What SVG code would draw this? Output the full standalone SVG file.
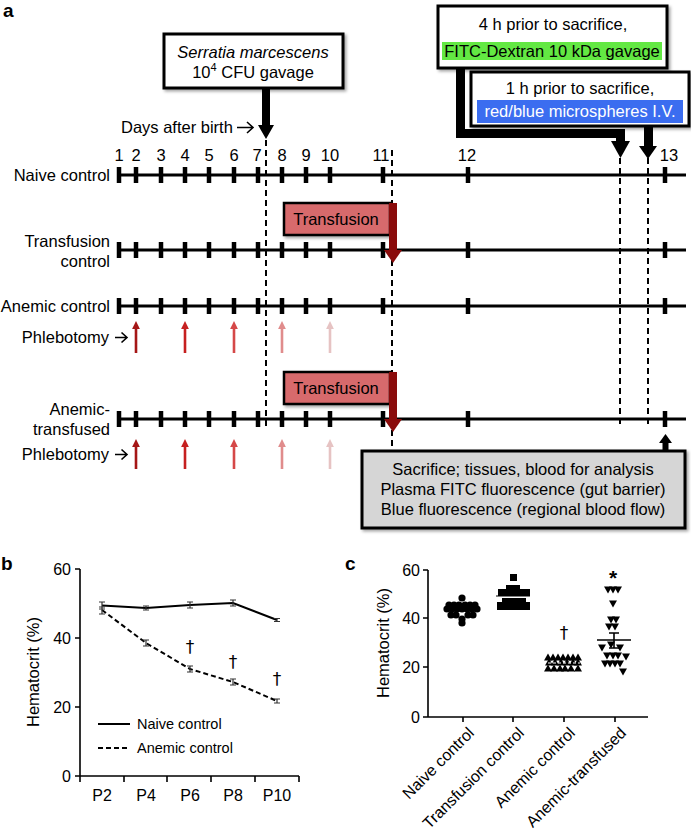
<svg xmlns="http://www.w3.org/2000/svg" width="691" height="833" viewBox="0 0 691 833">
<defs>
<style>
text{font-family:"Liberation Sans",Arial,sans-serif;fill:#000}
.lbl{font-size:16.5px;text-anchor:end}
.num{font-size:16.5px;text-anchor:middle}
.bx{font-size:16.5px;text-anchor:middle}
.ax{font-size:16px}
.lg{font-size:14.5px}
.dg{font-family:"DejaVu Sans",sans-serif;font-size:17px;text-anchor:middle;fill:#000}
.pl{font-weight:bold;font-size:19px}
.tl{stroke:#000;stroke-width:3;fill:none}
.tk{stroke:#000;stroke-width:4.5}
.dash{stroke:#000;stroke-width:2;stroke-dasharray:6,4;fill:none}
.box{stroke:#000;stroke-width:3}
.trbox{fill:#d76b6c;stroke:#000;stroke-width:2.5}
.axis{stroke:#000;stroke-width:1.6;fill:none}
.eb{stroke:#333;stroke-width:1.2;fill:none}
.oa{stroke:#000;stroke-width:1.6;fill:none}
</style>
<filter id="sh" x="-10%" y="-10%" width="130%" height="140%">
<feDropShadow dx="2" dy="2" stdDeviation="1.5" flood-color="#000" flood-opacity="0.35"/>
</filter>
<marker id="ph" viewBox="0 0 10 10" refX="5" refY="5" markerWidth="3" markerHeight="3" orient="auto"><path d="M0,0 L10,5 L0,10 Z" fill="context-stroke"/></marker>
<symbol id="tri" viewBox="-4 -4 8 8" overflow="visible"><path d="M-4,3.5 L4,3.5 L0,-3.5 Z"/></symbol>
<path id="dn" d="M-4,-3.5 L4,-3.5 L0,3.5 Z"/>
</defs>
<rect width="691" height="833" fill="#fff"/>

<text class="pl" x="3" y="17">a</text>
<text class="pl" x="1" y="570">b</text>
<text class="pl" x="345" y="570">c</text>

<g id="connectors">
<line class="dash" x1="266" y1="140" x2="266" y2="428"/>
<line class="dash" x1="392" y1="150" x2="392" y2="462"/>
<line class="dash" x1="620" y1="158" x2="620" y2="428"/>
<line class="dash" x1="648" y1="158" x2="648" y2="428"/>
<path d="M262,88 L270,88 L270,125 L274,125 L266,139 L258,125 L262,125 Z" fill="#000"/>
<polyline points="460.5,68 460.5,133.5 620.5,133.5 620.5,142" fill="none" stroke="#000" stroke-width="9" stroke-linejoin="miter"/>
<path d="M611,141 L630,141 L620.5,158 Z" fill="#000"/>
<rect x="644" y="126" width="9" height="22" fill="#000"/>
<path d="M639,146 L657,146 L648,159 Z" fill="#000"/>
<rect x="662.5" y="442" width="6" height="10" fill="#000"/>
<path d="M659,443 L672,443 L665.5,434 Z" fill="#000"/>
</g>

<g id="serratia-box">
<rect class="box" x="164" y="34" width="179" height="54" fill="#fff" filter="url(#sh)"/>
<text class="bx" x="253" y="58" font-style="italic">Serratia marcescens</text>
<text class="bx" x="253" y="78">10<tspan font-size="11" dy="-7">4</tspan><tspan dy="7"> CFU gavage</tspan></text>
</g>

<g id="fitc-box">
<rect class="box" x="438" y="6" width="229" height="62" fill="#fff" filter="url(#sh)"/>
<text class="bx" x="553" y="30">4 h prior to sacrifice,</text>
<rect x="442" y="42" width="220" height="18" fill="#63e843"/>
<text class="bx" x="552" y="57">FITC-Dextran 10 kDa gavage</text>
</g>

<g id="micro-box">
<rect class="box" x="471" y="72" width="218" height="54" fill="#fff" filter="url(#sh)"/>
<text class="bx" x="580" y="94">1 h prior to sacrifice,</text>
<rect x="477" y="100" width="206" height="23" fill="#3b6df0"/>
<text class="bx" x="580" y="117" style="fill:#fff">red/blue microspheres I.V.</text>
</g>

<g id="days-label">
<text x="121" y="133" style="font-size:16.5px">Days after birth</text>
<path class="oa" d="M237,127.5 H253 M247,122 L253,127.5 L247,133"/>
</g>

<g id="day-numbers">
<text class="num" x="119" y="161">1</text>
<text class="num" x="136" y="161">2</text>
<text class="num" x="161" y="161">3</text>
<text class="num" x="185" y="161">4</text>
<text class="num" x="209" y="161">5</text>
<text class="num" x="234" y="161">6</text>
<text class="num" x="257" y="161">7</text>
<text class="num" x="282" y="161">8</text>
<text class="num" x="306" y="161">9</text>
<text class="num" x="330" y="161">10</text>
<text class="num" x="381" y="161">11</text>
<text class="num" x="467" y="161">12</text>
<text class="num" x="669" y="161">13</text>
</g>

<g id="row-naive">
<text class="lbl" x="110" y="181">Naive control</text>
<line class="tl" x1="118" y1="175" x2="686" y2="175"/>
<path class="tk" d="M119,167v16M136,167v16M161,167v16M185,167v16M209,167v16M234,167v16M258,167v16M282,167v16M306,167v16M330,167v16M383,167v16M468,167v16M665,167v16"/>
</g>

<g id="row-transfusion">
<text class="lbl" x="110" y="247">Transfusion</text>
<text class="lbl" x="110" y="267">control</text>
<line class="tl" x1="118" y1="250" x2="686" y2="250"/>
<path class="tk" d="M119,242v16M136,242v16M161,242v16M185,242v16M209,242v16M234,242v16M258,242v16M282,242v16M306,242v16M330,242v16M383,242v16M468,242v16M665,242v16"/>
<rect class="trbox" x="284" y="203" width="106" height="32" filter="url(#sh)"/>
<text x="336" y="225" style="font-size:16.5px;text-anchor:middle">Transfusion</text>
<rect x="389" y="203" width="8" height="48" fill="#8a0b0b"/>
<path d="M384,250 L402,250 L393,263 Z" fill="#8a0b0b"/>
</g>

<g id="row-anemic">
<text class="lbl" x="110" y="312">Anemic control</text>
<line class="tl" x1="118" y1="306" x2="686" y2="306"/>
<path class="tk" d="M119,298v16M136,298v16M161,298v16M185,298v16M209,298v16M234,298v16M258,298v16M282,298v16M306,298v16M330,298v16M383,298v16M468,298v16M665,298v16"/>
<text class="lbl" x="109" y="343">Phlebotomy</text>
<path class="oa" d="M115,337.5 H127 M121.5,332.5 L127,337.5 L121.5,342.5"/>
<line x1="136" y1="353" x2="136" y2="325" stroke="#a51616" stroke-width="2.6" marker-end="url(#ph)"/>
<line x1="185" y1="353" x2="185" y2="325" stroke="#c62020" stroke-width="2.6" marker-end="url(#ph)"/>
<line x1="234" y1="353" x2="234" y2="325" stroke="#d54848" stroke-width="2.6" marker-end="url(#ph)"/>
<line x1="282" y1="353" x2="282" y2="325" stroke="#e08c8c" stroke-width="2.6" marker-end="url(#ph)"/>
<line x1="330" y1="353" x2="330" y2="325" stroke="#e6c3c3" stroke-width="2.6" marker-end="url(#ph)"/>
</g>

<g id="row-anemic-transfused">
<text class="lbl" x="110" y="415">Anemic-</text>
<text class="lbl" x="110" y="435">transfused</text>
<line class="tl" x1="118" y1="419" x2="686" y2="419"/>
<path class="tk" d="M119,411v16M136,411v16M161,411v16M185,411v16M209,411v16M234,411v16M258,411v16M282,411v16M306,411v16M330,411v16M383,411v16M468,411v16M665,411v16"/>
<rect class="trbox" x="284" y="372" width="106" height="32" filter="url(#sh)"/>
<text x="336" y="394" style="font-size:16.5px;text-anchor:middle">Transfusion</text>
<rect x="389" y="372" width="8" height="48" fill="#8a0b0b"/>
<path d="M384,419 L402,419 L393,432 Z" fill="#8a0b0b"/>
<text class="lbl" x="109" y="460">Phlebotomy</text>
<path class="oa" d="M115,454.5 H127 M121.5,449.5 L127,454.5 L121.5,459.5"/>
<line x1="136" y1="469" x2="136" y2="443" stroke="#a51616" stroke-width="2.6" marker-end="url(#ph)"/>
<line x1="185" y1="469" x2="185" y2="443" stroke="#c62020" stroke-width="2.6" marker-end="url(#ph)"/>
<line x1="234" y1="469" x2="234" y2="443" stroke="#d54848" stroke-width="2.6" marker-end="url(#ph)"/>
<line x1="282" y1="469" x2="282" y2="443" stroke="#e08c8c" stroke-width="2.6" marker-end="url(#ph)"/>
<line x1="330" y1="469" x2="330" y2="443" stroke="#e6c3c3" stroke-width="2.6" marker-end="url(#ph)"/>
</g>

<g id="sacrifice-box">
<rect class="box" x="362" y="451" width="323" height="77" fill="#d6d6d6" filter="url(#sh)"/>
<text class="bx" x="523" y="475">Sacrifice; tissues, blood for analysis</text>
<text class="bx" x="523" y="495">Plasma FITC fluorescence (gut barrier)</text>
<text class="bx" x="523" y="515">Blue fluorescence (regional blood flow)</text>
</g>

<g id="chart-b">
<path class="axis" d="M80,569 V776 H299 M75,569 H80 M75,638 H80 M75,707 H80 M75,776 H80 M124,776 v6 M167,776 v6 M211,776 v6 M255,776 v6 M299,776 v6 M80,776 v6"/>
<text class="ax" x="71" y="575" text-anchor="end">60</text>
<text class="ax" x="71" y="644" text-anchor="end">40</text>
<text class="ax" x="71" y="713" text-anchor="end">20</text>
<text class="ax" x="71" y="782" text-anchor="end">0</text>
<text transform="translate(39,672) rotate(-90)" text-anchor="middle" style="font-size:16.5px">Hematocrit (%)</text>
<text class="ax" x="102" y="801" text-anchor="middle">P2</text>
<text class="ax" x="146" y="801" text-anchor="middle">P4</text>
<text class="ax" x="190" y="801" text-anchor="middle">P6</text>
<text class="ax" x="233" y="801" text-anchor="middle">P8</text>
<text class="ax" x="277" y="801" text-anchor="middle">P10</text>
<polyline points="102,605.5 146,608 190,605 233,603 277,620" fill="none" stroke="#000" stroke-width="2"/>
<polyline points="102,610 146,643 190,669 233,682 277,701" fill="none" stroke="#000" stroke-width="2" stroke-dasharray="5,3"/>
<path class="eb" d="M102,602v7M99,602h6M99,609h6 M146,606v4M143,606h6M143,610h6 M190,602v6M187,602h6M187,608h6 M233,600v6M230,600h6M230,606h6 M277,618.5v3M274,618.5h6M274,621.5h6
M102,607v7M99,607h6M99,614h6 M146,640v6M143,640h6M143,646h6 M190,666v6M187,666h6M187,672h6 M233,679v6M230,679h6M230,685h6 M277,699v4M274,699h6M274,703h6"/>
<text class="dg" x="190" y="653">†</text>
<text class="dg" x="233" y="668">†</text>
<text class="dg" x="277" y="685">†</text>
<line x1="98" y1="724" x2="130" y2="724" stroke="#000" stroke-width="2"/>
<text class="lg" x="137" y="729">Naive control</text>
<line x1="98" y1="748" x2="130" y2="748" stroke="#000" stroke-width="2" stroke-dasharray="5,3"/>
<text class="lg" x="137" y="753">Anemic control</text>
</g>

<g id="chart-c">
<path class="axis" d="M428,570 V717 H648 M423,570 H428 M423,618 H428 M423,667 H428 M423,717 H428 M463,717 v5 M513,717 v5 M564,717 v5 M615,717 v5"/>
<text class="ax" x="420" y="576" text-anchor="end">60</text>
<text class="ax" x="420" y="624" text-anchor="end">40</text>
<text class="ax" x="420" y="673" text-anchor="end">20</text>
<text class="ax" x="420" y="723" text-anchor="end">0</text>
<text transform="translate(389,643) rotate(-90)" text-anchor="middle" style="font-size:16.5px">Hematocrit (%)</text>
<text class="ax" transform="translate(475,734) rotate(-45)" text-anchor="end">Naive control</text>
<text class="ax" transform="translate(525,734) rotate(-45)" text-anchor="end">Transfusion control</text>
<text class="ax" transform="translate(576,734) rotate(-45)" text-anchor="end">Anemic control</text>
<text class="ax" transform="translate(627,734) rotate(-45)" text-anchor="end">Anemic-transfused</text>
<g fill="#000">
<circle cx="462" cy="598" r="3.6"/>
<circle cx="449" cy="605" r="3.6"/><circle cx="454" cy="605" r="3.6"/><circle cx="459" cy="605" r="3.6"/><circle cx="465" cy="605" r="3.6"/><circle cx="470" cy="605" r="3.6"/><circle cx="475" cy="605" r="3.6"/>
<circle cx="447" cy="609" r="3.6"/><circle cx="452" cy="609" r="3.6"/><circle cx="457" cy="609" r="3.6"/><circle cx="462" cy="609" r="3.6"/><circle cx="467" cy="609" r="3.6"/><circle cx="472" cy="609" r="3.6"/><circle cx="477" cy="609" r="3.6"/>
<circle cx="451" cy="615" r="3.6"/><circle cx="456" cy="615" r="3.6"/><circle cx="468" cy="615" r="3.6"/><circle cx="473" cy="615" r="3.6"/>
<circle cx="462" cy="619" r="3.6"/><circle cx="462" cy="623" r="3.6"/>
</g>
<path d="M444,608h36 M462,606v4" stroke="#000" stroke-width="1.5"/>
<g fill="#000">
<rect x="510" y="574" width="7" height="7"/>
<rect x="506" y="585" width="7" height="7"/><rect x="513" y="585" width="7" height="7"/>
<rect x="498" y="589" width="32" height="7"/>
<rect x="502" y="598" width="24" height="6"/>
<rect x="497" y="602" width="33" height="8"/>
</g>
<path d="M496,597h34" stroke="#fff" stroke-width="1.2"/>
<path d="M496,596h34" stroke="#000" stroke-width="1"/>
<g fill="#000">
<use href="#tri" x="544" y="653" width="8" height="8"/><use href="#tri" x="549" y="653" width="8" height="8"/><use href="#tri" x="554" y="653" width="8" height="8"/><use href="#tri" x="559" y="653" width="8" height="8"/><use href="#tri" x="564" y="653" width="8" height="8"/><use href="#tri" x="569" y="653" width="8" height="8"/><use href="#tri" x="574" y="653" width="8" height="8"/>
<use href="#tri" x="545" y="658" width="8" height="8"/><use href="#tri" x="551" y="658" width="8" height="8"/><use href="#tri" x="557" y="658" width="8" height="8"/><use href="#tri" x="563" y="658" width="8" height="8"/><use href="#tri" x="569" y="658" width="8" height="8"/><use href="#tri" x="574" y="658" width="8" height="8"/>
<use href="#tri" x="544" y="664" width="8" height="8"/><use href="#tri" x="550" y="664" width="8" height="8"/><use href="#tri" x="556" y="664" width="8" height="8"/><use href="#tri" x="561" y="664" width="8" height="8"/><use href="#tri" x="567" y="664" width="8" height="8"/><use href="#tri" x="574" y="664" width="8" height="8"/>
</g>
<path d="M548,663h32" stroke="#fff" stroke-width="1" stroke-dasharray="3,2"/>
<text class="dg" x="564" y="639">†</text>
<g fill="#000">
<use href="#dn" x="608" y="590"/><use href="#dn" x="613" y="590"/><use href="#dn" x="618" y="590"/>
<use href="#dn" x="613" y="604"/>
<use href="#dn" x="611" y="620"/><use href="#dn" x="616" y="620"/>
<use href="#dn" x="609" y="627"/><use href="#dn" x="615" y="627"/>
<use href="#dn" x="611" y="645"/><use href="#dn" x="602" y="648"/><use href="#dn" x="620" y="648"/>
<use href="#dn" x="607" y="656"/><use href="#dn" x="613" y="656"/><use href="#dn" x="618" y="656"/><use href="#dn" x="626" y="657"/>
<use href="#dn" x="605" y="664"/><use href="#dn" x="610" y="664"/><use href="#dn" x="615" y="664"/><use href="#dn" x="620" y="664"/>
<use href="#dn" x="623" y="672"/>
</g>
<path d="M597,640h34 M614,633v15 M609,633h10 M609,648h10" stroke="#000" stroke-width="1.6" fill="none"/>
<text x="613" y="585" style="font-size:21px;font-weight:bold" text-anchor="middle">*</text>
</g>
</svg>
